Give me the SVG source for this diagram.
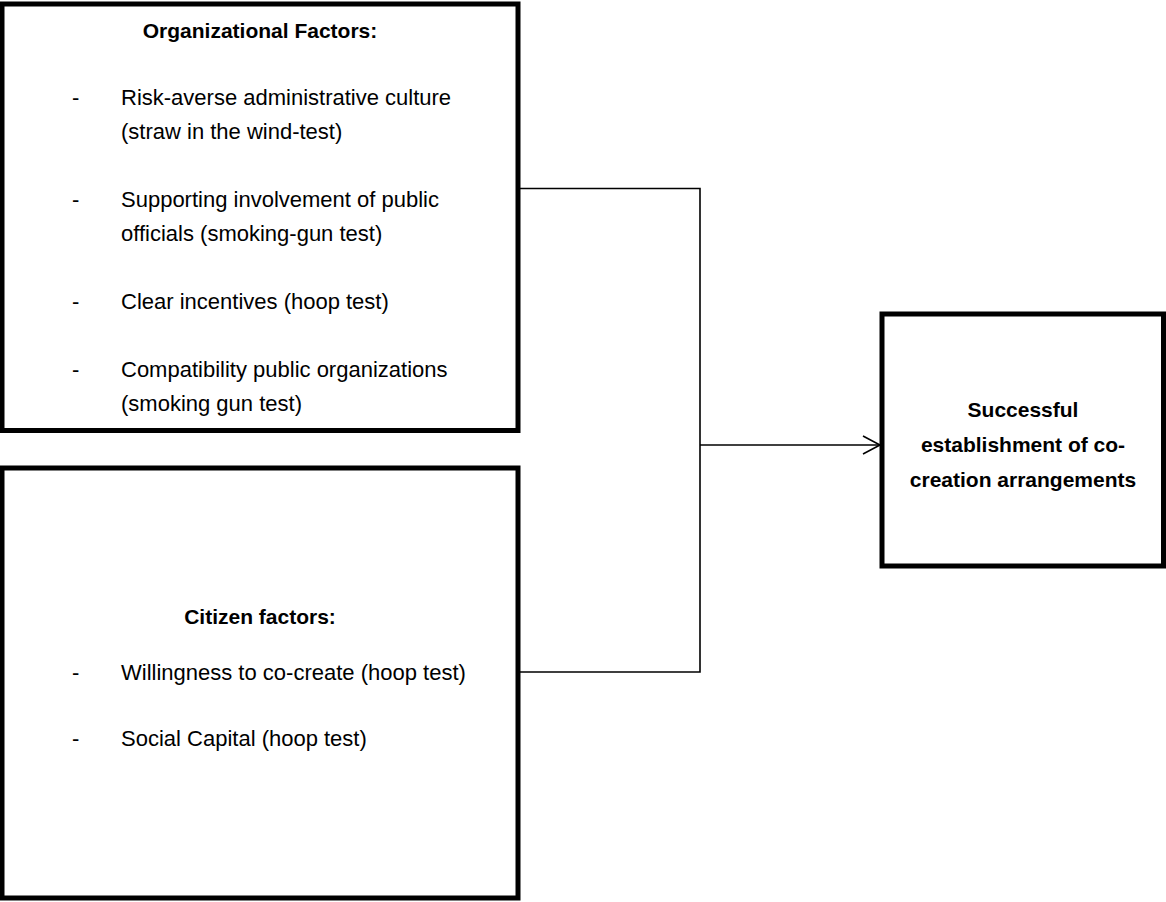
<svg xmlns="http://www.w3.org/2000/svg" width="1166" height="902" viewBox="0 0 1166 902">
<style>
.box{fill:#fff;stroke:#000;stroke-width:5;stroke-linejoin:miter}
.t{font-family:"Liberation Sans",Arial,sans-serif;font-size:22px;fill:#000}
.b{font-family:"Liberation Sans",Arial,sans-serif;font-size:21px;font-weight:bold;fill:#000;text-anchor:middle}
.c{fill:none;stroke:#000;stroke-width:1.6}
</style>
<defs>
<marker id="arr" markerWidth="20" markerHeight="20" refX="18" refY="10" orient="auto" markerUnits="userSpaceOnUse">
<path d="M1,1 L18,10 L1,19" fill="none" stroke="#000" stroke-width="1.6"/>
</marker>
</defs>
<rect width="1166" height="902" fill="#fff"/>
<g id="connectors">
<polyline class="c" points="518,188.5 700,188.5 700,672 518,672"/>
<line class="c" x1="700" y1="445" x2="880" y2="445" marker-end="url(#arr)"/>
</g>
<g id="organizational">
<rect class="box" x="2" y="4" width="516" height="426.5"/>
<text class="b" x="260" y="38">Organizational Factors:</text>
<text class="t" x="72" y="105">-</text>
<text class="t" x="121" y="105">Risk-averse administrative culture</text>
<text class="t" x="121" y="139">(straw in the wind-test)</text>
<text class="t" x="72" y="207">-</text>
<text class="t" x="121" y="207">Supporting involvement of public</text>
<text class="t" x="121" y="241">officials (smoking-gun test)</text>
<text class="t" x="72" y="309">-</text>
<text class="t" x="121" y="309">Clear incentives (hoop test)</text>
<text class="t" x="72" y="377">-</text>
<text class="t" x="121" y="377">Compatibility public organizations</text>
<text class="t" x="121" y="411">(smoking gun test)</text>
</g>
<g id="citizen">
<rect class="box" x="2" y="468" width="516" height="430"/>
<text class="b" x="260" y="624">Citizen factors:</text>
<text class="t" x="72" y="680">-</text>
<text class="t" x="121" y="680">Willingness to co-create (hoop test)</text>
<text class="t" x="72" y="746">-</text>
<text class="t" x="121" y="746">Social Capital (hoop test)</text>
</g>
<g id="outcome">
<rect class="box" x="882" y="314" width="281.5" height="252"/>
<text class="b" x="1023" y="417">Successful</text>
<text class="b" x="1023" y="452">establishment of co-</text>
<text class="b" x="1023" y="487">creation arrangements</text>
</g>
</svg>
